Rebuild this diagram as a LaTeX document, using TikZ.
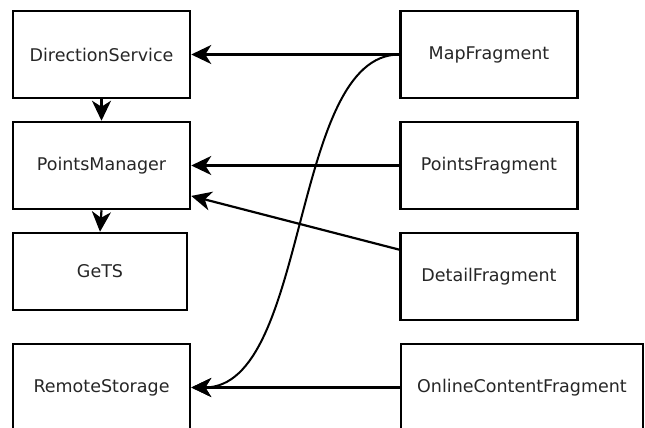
\documentclass[tikz,border=0pt]{standalone}
\usepackage{fontspec}
\setmainfont{DejaVu Sans}
\usetikzlibrary{arrows.meta,calc}
\begin{document}
\begin{tikzpicture}[x=1pt,y=-1pt,
  box/.style={draw=black,line width=2.5pt,minimum width=177pt,minimum height=87pt,inner sep=0pt,
    font=\fontsize{17.5}{20}\selectfont,text=black!85},
  tip/.style={-{Stealth[length=20pt,width=19pt,inset=6pt]}},
  arr/.style={line width=2.2pt,tip},
  curv/.style={line width=2pt,tip}]
\useasboundingbox (0,0) rectangle (645,428);
\clip (0,0) rectangle (645,428);
\node[box] (ds) at (101.5,54.5) {DirectionService};
\node[box] (pm) at (101.5,165.5) {PointsManager};
\node[box,minimum width=174pt,minimum height=77pt] (gets) at (100,271.5) {GeTS};
\node[box] (rs) at (101.5,387.5) {RemoteStorage};
\node[box] (mf) at (489,54.5) {MapFragment};
\node[box] (pf) at (489,165.5) {PointsFragment};
\node[box] (df) at (489,276.5) {DetailFragment};
\node[box,minimum width=242pt] (oc) at (522,387.5) {OnlineContentFragment};
\draw[arr] (mf.west) -- (ds.east);
\draw[arr] (pf.west) -- (pm.east);
\draw[arr] ($(df.north west)!0.2!(df.south west)$) -- ($(pm.north east)!0.84!(pm.south east)$);
\draw[arr] (oc.west) -- (rs.east);
\draw[arr] (ds.south) -- (pm.north);
\draw[arr] (pm.south) -- (gets.north);
\draw[curv] (mf.west) .. controls (290,54.5) and (310,387.5) .. (rs.east);
\end{tikzpicture}
\end{document}
